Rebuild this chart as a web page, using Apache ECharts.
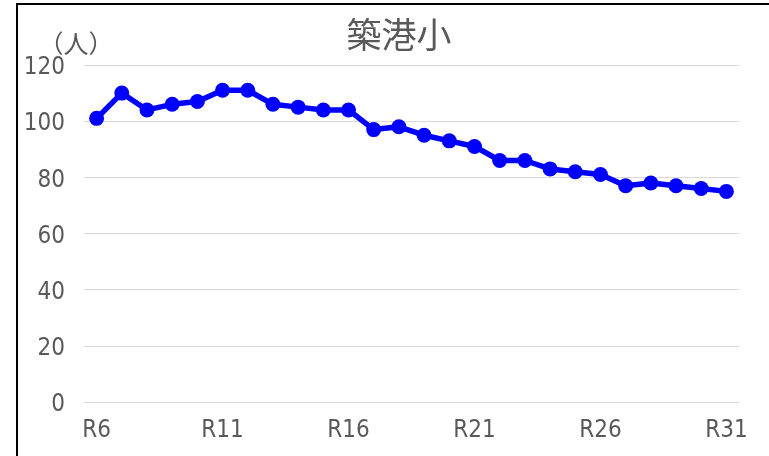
<!DOCTYPE html>
<html>
<head>
<meta charset="utf-8">
<script src="https://cdn.jsdelivr.net/npm/echarts@6/dist/echarts.min.js"></script>
<style>
  html, body { margin: 0; padding: 0; background: #fff; }
  #chart { width: 769px; height: 456px; }
</style>
</head>
<body>
<div id="chart"></div>
<script>
  // 年度 (R6 - R31)
  var years = ['R6','R7','R8','R9','R10','R11','R12','R13','R14','R15','R16','R17','R18',
    'R19','R20','R21','R22','R23','R24','R25','R26','R27','R28','R29','R30','R31']
  // 児童数（人）
  var pupils = [101,110,104,106,107,111,111,106,105,104,104,97,98,
    95,93,91,86,86,83,82,81,77,78,77,76,75]
  var yTicks = { min: 0, max: 120, interval: 20 }

  var labelFont = '"Liberation Sans Narrow", "Arial Narrow", "DejaVu Sans Condensed", sans-serif'
  var chart = echarts.init(document.getElementById('chart'))
  var option = {
    backgroundColor: '#fff',
    animation: false,
    title: {
      text: '築港小',
      left: 394,
      top: 12,
      textAlign: 'center',
      textStyle: {
        fontFamily: '"Noto Sans CJK JP", sans-serif',
        fontSize: 35,
        fontWeight: 'normal',
        color: '#595959'
      }
    },
    graphic: [{
      type: 'rect',
      shape: { x: 17, y: 4, width: 800, height: 500 },
      style: { fill: null, stroke: '#000', lineWidth: 2 },
      silent: true
    }],
    grid: { left: 84, right: 30, top: 65, bottom: 54 },
    xAxis: {
      type: 'category',
      data: years,
      boundaryGap: true,
      axisLine: { show: false },
      axisTick: { show: false },
      axisLabel: {
        interval: 4,
        margin: 17,
        fontFamily: labelFont,
        fontSize: 24,
        color: '#595959'
      }
    },
    yAxis: {
      type: 'value',
      min: yTicks.min,
      max: yTicks.max,
      interval: yTicks.interval,
      name: '（人）',
      nameLocation: 'end',
      nameGap: 8,
      nameTextStyle: {
        fontFamily: '"Noto Sans CJK JP", sans-serif',
        fontSize: 25,
        color: '#595959',
        align: 'center',
        padding: [0, 16, 0, 0]
      },
      axisLine: { show: false },
      axisTick: { show: false },
      axisLabel: {
        margin: 19,
        formatter: '{v|{value}}',
        rich: {
          v: {
            padding: [6, 0, 0, 0],
            fontFamily: labelFont,
            fontSize: 24,
            color: '#595959'
          }
        }
      },
      splitLine: { lineStyle: { color: '#d9d9d9', width: 1 } }
    },
    series: [{
      name: '築港小',
      type: 'line',
      data: pupils,
      symbol: 'circle',
      symbolSize: 15,
      lineStyle: { color: '#0000ff', width: 5.5 },
      itemStyle: { color: '#0000ff' }
    }]
  }
  chart.setOption(option)
</script>
</body>
</html>
